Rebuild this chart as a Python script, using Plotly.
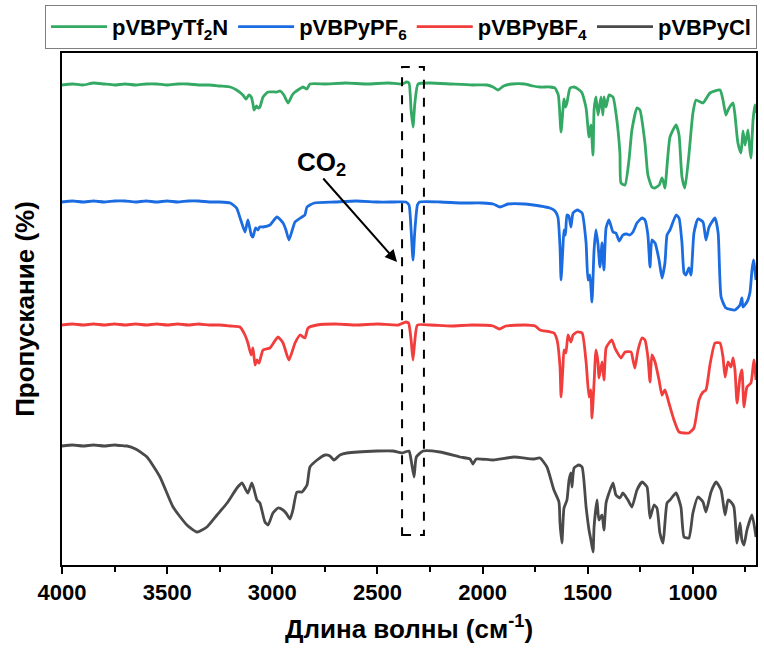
import plotly.graph_objects as go

# (wavenumber cm^-1, transmittance in arbitrary offset units)
tf2n = [(4000,480),(3950,481),(3900,480),(3850,482),(3800,481),(3750,480),(3700,481),(3650,480),(3600,481),(3550,481),
        (3500,480),(3450,481),(3400,481),(3350,480),(3300,480),(3250,479),(3200,478),(3170,475),(3140,470),(3125,466),
        (3111,470),(3100,468),(3092,461),(3087,455),(3075,459),(3068,457),(3059,458),(3044,468),(3020,473),(2978,473),
        (2963,474),(2945,470),(2925,462),(2905,470),(2892,473),(2854,478),(2845,477),(2835,476),(2821,481),(2750,481),
        (2650,482),(2550,481),(2450,482),(2380,481),(2362,483),(2350,482),(2340,455),(2331,438),(2322,462),(2307,481),
        (2250,482),(2150,481),(2050,480),(1979,480),(1950,478),(1927,475),(1900,479),(1860,481),(1800,481),(1760,479),
        (1727,478),(1680,478),(1656,477),(1640,470),(1627,433),(1613,466),(1605,458),(1599,462),(1584,477),(1565,478),
        (1540,475),(1527,472),(1508,457),(1494,428),(1485,440),(1475,410),(1470,455),(1461,468),(1451,450),(1437,468),
        (1428,450),(1423,468),(1413,458),(1399,470),(1380,468),(1366,452),(1347,412),(1342,382),(1323,380),(1304,405),
        (1290,435),(1266,457),(1252,455),(1228,422),(1214,390),(1195,378),(1180,377),(1160,380),(1147,387),(1140,383),
        (1133,377),(1109,428),(1080,440),(1066,430),(1052,388),(1038,377),(1019,410),(1000,452),(985,465),(952,462),
        (919,472),(871,475),(857,465),(843,450),(833,455),(819,460),(809,462),(800,450),(786,422),(771,412),(762,434),
        (752,420),(738,435),(729,415),(724,407),(714,445),(705,460),(700,452)]

pf6 = [(4000,363),(3950,364),(3900,363),(3850,364),(3800,363),(3750,364),(3700,364),(3650,363),(3600,364),(3550,363),
       (3500,364),(3450,363),(3400,364),(3350,364),(3300,363),(3250,363),(3200,362),(3170,357),(3150,345),(3130,333),
       (3116,345),(3100,330),(3092,328),(3080,337),(3068,335),(3060,338),(3044,338),(3011,340),(2978,348),(2949,342),
       (2935,335),(2921,325),(2905,335),(2892,343),(2859,348),(2845,350),(2835,358),(2800,362),(2700,363),(2600,364),
       (2500,363),(2420,363),(2365,363),(2350,360),(2340,335),(2331,305),(2322,335),(2310,360),(2300,363),(2200,363),
       (2100,362),(2000,362),(1950,361),(1917,358),(1880,361),(1800,361),(1727,359),(1680,357),(1656,354),(1642,348),
       (1632,318),(1627,285),(1618,318),(1613,335),(1606,330),(1599,350),(1590,349),(1580,338),(1570,352),(1550,355),
       (1527,352),(1508,322),(1499,285),(1490,290),(1480,263),(1470,315),(1461,335),(1451,320),(1442,298),(1432,322),
       (1423,295),(1413,337),(1399,345),(1380,333),(1366,332),(1350,324),(1333,330),(1315,331),(1300,330),(1285,333),
       (1266,342),(1242,347),(1228,345),(1214,330),(1204,298),(1195,325),(1180,322),(1161,305),(1147,287),(1133,302),
       (1123,330),(1109,335),(1080,350),(1066,347),(1052,322),(1042,292),(1033,290),(1019,297),(1009,290),(995,332),
       (976,346),(952,343),(938,325),(923,338),(895,347),(880,332),(866,268),(843,257),(800,255),(776,260),(767,267),
       (762,258),(743,263),(729,272),(719,295),(712,305),(700,285)]

bf4 = [(4000,240),(3950,241),(3900,240),(3850,241),(3800,240),(3750,241),(3700,240),(3650,241),(3600,240),(3550,241),
       (3500,240),(3450,241),(3400,240),(3350,241),(3300,240),(3250,240),(3200,239),(3154,238),(3130,230),(3116,222),
       (3101,210),(3092,217),(3082,200),(3073,205),(3063,202),(3044,215),(3011,217),(2973,228),(2949,222),(2921,205),
       (2892,222),(2868,230),(2845,227),(2830,237),(2787,240),(2700,241),(2600,240),(2500,241),(2400,240),(2365,243),
       (2352,242),(2340,225),(2331,205),(2322,225),(2310,240),(2250,240),(2150,239),(2050,240),(1950,239),(1920,236),
       (1890,239),(1800,240),(1750,239),(1727,235),(1661,232),(1646,225),(1632,198),(1627,168),(1618,198),(1613,215),
       (1604,212),(1594,230),(1580,223),(1570,230),(1551,233),(1527,232),(1508,203),(1494,168),(1485,175),(1480,147),
       (1470,182),(1461,215),(1451,202),(1447,187),(1432,203),(1423,185),(1413,217),(1399,222),(1385,225),(1371,217),
       (1361,213),(1342,207),(1323,213),(1294,213),(1285,205),(1276,197),(1261,215),(1242,227),(1228,225),(1214,208),
       (1204,183),(1195,210),(1180,203),(1161,185),(1147,170),(1133,175),(1114,162),(1090,145),(1066,133),(1019,132),
       (995,137),(971,165),(952,173),(938,175),(919,200),(895,222),(871,222),(857,208),(847,188),(833,203),(819,198),
       (809,207),(800,195),(790,162),(776,188),(767,195),(757,158),(743,178),(724,182),(710,205),(700,185)]

cl = [(4000,119),(3950,120),(3900,119),(3850,120),(3800,119),(3750,120),(3700,119),(3691,119),(3650,116),(3596,108),
      (3534,88),(3472,58),(3406,40),(3358,33),(3311,38),(3263,50),(3215,62),(3168,77),(3144,82),(3128,76),
      (3116,72),(3097,82),(3073,65),(3059,62),(3035,43),(3020,40),(2997,52),(2973,57),(2949,55),(2935,52),
      (2916,46),(2902,55),(2883,73),(2859,73),(2835,80),(2821,98),(2787,105),(2749,110),(2726,109),(2707,105),
      (2678,110),(2645,112),(2502,114),(2426,114),(2383,112),(2350,114),(2340,105),(2326,88),(2315,108),(2283,114),
      (2203,113),(2107,108),(2060,106),(2046,101),(2030,106),(1950,105),(1850,108),(1760,106),(1727,107),(1694,98),
      (1661,75),(1637,63),(1632,42),(1623,22),(1613,57),(1599,65),(1589,85),(1580,92),(1575,78),(1565,97),
      (1542,100),(1527,98),(1508,58),(1494,35),(1485,25),(1475,13),(1470,38),(1456,65),(1447,45),(1432,50),
      (1423,35),(1413,62),(1399,72),(1380,82),(1366,70),(1347,67),(1333,72),(1309,65),(1290,58),(1266,75),
      (1242,83),(1218,78),(1204,47),(1185,60),(1171,57),(1157,32),(1142,22),(1133,42),(1123,62),(1109,65),
      (1080,72),(1057,58),(1042,28),(1019,27),(1000,52),(976,68),(952,63),(938,53),(914,73),(890,83),
      (866,75),(847,50),(833,65),(819,63),(805,58),(790,22),(776,42),(767,25),(757,20),(743,35),
      (719,50),(700,28)]

series_names = ["pVBPyTf<sub>2</sub>N", "pVBPyPF<sub>6</sub>", "pVBPyBF<sub>4</sub>", "pVBPyCl"]
series_data = [tf2n, pf6, bf4, cl]
colors = ["#33a964", "#1b6ce0", "#f23d3d", "#4a4a4a"]

x_ticks = [4000, 3500, 3000, 2500, 2000, 1500, 1000]
co2_box = (2383, 2279, 30, 498)        # wavenumber span and transmittance span of the dashed box
co2_text_pos = (2764, 402)
co2_arrow_tail = (2764, 388)
co2_arrow_head = (2407, 303)

FONT = "Liberation Sans, Arial, sans-serif"

fig = go.Figure()
for name, data, c in zip(series_names, series_data, colors):
    xs = [p[0] for p in data]
    ys = [p[1] for p in data]
    fig.add_trace(go.Scatter(x=xs, y=ys, mode="lines", name=name,
                             line=dict(color=c, width=2.8, shape="spline", smoothing=0.5)))

fig.add_shape(type="rect", xref="x", yref="y",
              x0=co2_box[0], x1=co2_box[1], y0=co2_box[2], y1=co2_box[3],
              line=dict(color="black", width=2, dash="dash"))

fig.add_annotation(x=co2_text_pos[0], y=co2_text_pos[1], xref="x", yref="y",
                   text="CO<sub>2</sub>", showarrow=False,
                   font=dict(family=FONT, size=26, color="black", weight="bold"))
fig.add_annotation(x=co2_arrow_head[0], y=co2_arrow_head[1], xref="x", yref="y",
                   ax=co2_arrow_tail[0], ay=co2_arrow_tail[1], axref="x", ayref="y",
                   text="", showarrow=True, arrowhead=2, arrowsize=1.2, arrowwidth=2,
                   arrowcolor="black")

fig.update_layout(
    width=764, height=648,
    margin=dict(l=62, r=8, t=53, b=83, autoexpand=False),
    paper_bgcolor="white", plot_bgcolor="white",
    font=dict(family=FONT, color="black"),
    showlegend=True,
    legend=dict(orientation="h", x=-0.0245, y=1.094, xanchor="left", yanchor="top",
                bordercolor="#7f7f7f", borderwidth=1, bgcolor="white",
                font=dict(family=FONT, size=22, color="black", weight="bold"),
                itemwidth=56, tracegroupgap=0),
    xaxis=dict(range=[4000, 700], autorange=False,
               tickmode="array", tickvals=x_ticks, ticktext=[str(v) for v in x_ticks],
               ticks="outside", ticklen=7, tickwidth=1.5, tickcolor="black",
               minor=dict(dtick=250, tick0=0, ticks="outside", ticklen=5, tickwidth=1.5, tickcolor="black"),
               showline=True, linecolor="black", linewidth=1.5, mirror=True,
               showgrid=False, zeroline=False,
               tickfont=dict(family=FONT, size=22, color="black", weight="bold"),
               title=dict(text="Длина волны (см<sup>-1</sup>)", standoff=16,
                          font=dict(family=FONT, size=26, color="black", weight="bold"))),
    yaxis=dict(range=[0, 512], autorange=False, showticklabels=False, ticks="",
               showline=True, linecolor="black", linewidth=1.5, mirror=True,
               showgrid=False, zeroline=False,
               title=dict(text="Пропускание (%)", standoff=18,
                          font=dict(family=FONT, size=26, color="black", weight="bold"))),
)

fig.write_html("out.html")
